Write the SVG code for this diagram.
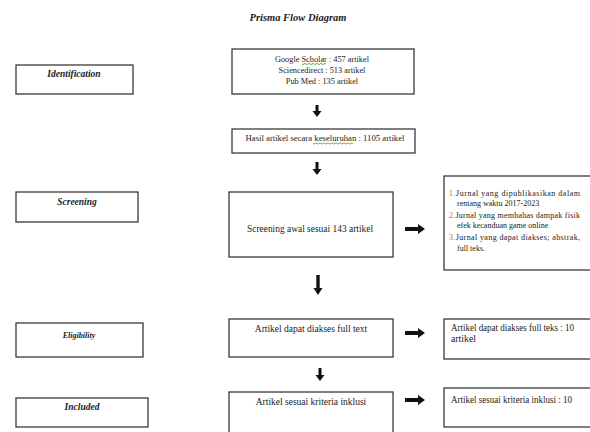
<svg xmlns="http://www.w3.org/2000/svg" width="590" height="432" viewBox="0 0 590 432">
<style>
.box{fill:#fff;stroke:#3a3a3a;stroke-width:1.3}
.t{font-family:"Liberation Serif","Times New Roman",serif;fill:#222}
.lab{font-family:"Liberation Serif","Times New Roman",serif;font-weight:bold;font-style:italic;fill:#222}
.arr{fill:#111}
.num{fill:#d0661f}
.sq{fill:none;stroke:#3a9a3a;stroke-width:0.8}
</style>
<rect width="590" height="432" fill="#fff"/>
<text class="lab" x="298" y="21" font-size="10.5" text-anchor="middle">Prisma Flow Diagram</text>

<g id="identification"><rect class="box" x="16" y="65" width="117" height="29"/><text class="lab" x="74" y="77" font-size="9.5" text-anchor="middle">Identification</text></g>
<g id="screening"><rect class="box" x="16" y="192" width="122" height="30"/><text class="lab" x="77" y="205" font-size="9.5" text-anchor="middle">Screening</text></g>
<g id="eligibility"><rect class="box" x="16" y="323" width="127" height="34"/><text class="lab" x="79" y="338" font-size="8" text-anchor="middle">Eligibility</text></g>
<g id="included"><rect class="box" x="16" y="398" width="132" height="29"/><text class="lab" x="82" y="410" font-size="9.5" text-anchor="middle">Included</text></g>

<g id="sources"><rect class="box" x="232" y="49" width="182" height="45"/>
<text class="t" font-size="8.3" text-anchor="middle"><tspan x="322" y="62">Google Scholar : 457 artikel</tspan><tspan x="322" y="73">Sciencedirect : 513 artikel</tspan><tspan x="322" y="84">Pub Med : 135 artikel</tspan></text>
<path class="sq" d="M302,64 q1,1.2 2,0 t2,0 t2,0 t2,0 t2,0 t2,0 t2,0 t2,0 t2,0 t2,0 t2,0 t2,0"/>
</g>
<g id="total"><rect class="box" x="232" y="129" width="183" height="24"/>
<text class="t" x="325" y="141" font-size="8.7" text-anchor="middle" textLength="159" lengthAdjust="spacingAndGlyphs">Hasil artikel secara keseluruhan : 1105 artikel</text>
<path class="sq" d="M313,143.5 q1,1.2 2,0 t2,0 t2,0 t2,0 t2,0 t2,0 t2,0 t2,0 t2,0 t2,0 t2,0 t2,0 t2,0 t2,0 t2,0 t2,0 t2,0 t2,0 t2,0 t2,0"/>
</g>
<g id="screening-awal"><rect class="box" x="229" y="192" width="164" height="65"/>
<text class="t" x="310" y="232" font-size="10.2" text-anchor="middle" textLength="126" lengthAdjust="spacingAndGlyphs">Screening awal sesuai 143 artikel</text></g>
<g id="criteria"><rect class="box" x="444" y="176" width="150" height="94"/>
<text class="t" font-size="8">
<tspan x="449" y="196" textLength="131" lengthAdjust="spacing"><tspan class="num">1.</tspan>Jurnal yang dipublikasikan dalam</tspan>
<tspan x="457" y="206">rentang waktu 2017-2023</tspan>
<tspan x="449" y="218" textLength="131" lengthAdjust="spacing"><tspan class="num">2.</tspan>Jurnal yang membahas dampak fisik</tspan>
<tspan x="457" y="228">efek kecanduan game online</tspan>
<tspan x="449" y="240" textLength="131" lengthAdjust="spacing"><tspan class="num">3.</tspan>Jurnal yang dapat diakses; abstrak,</tspan>
<tspan x="457" y="251">full teks.</tspan>
</text></g>
<g id="fulltext"><rect class="box" x="229" y="319" width="164" height="38"/>
<text class="t" x="311" y="332" font-size="9.5" text-anchor="middle">Artikel dapat diakses full text</text></g>
<g id="fulltext-result"><rect class="box" x="444" y="319" width="150" height="40"/>
<text class="t" font-size="9.8"><tspan x="451" y="331" textLength="123" lengthAdjust="spacingAndGlyphs">Artikel dapat diakses full teks : 10</tspan><tspan x="451" y="342">artikel</tspan></text></g>
<g id="inklusi"><rect class="box" x="229" y="392" width="164" height="45"/>
<text class="t" x="311" y="405" font-size="9.5" text-anchor="middle">Artikel sesuai kriteria inklusi</text></g>
<g id="inklusi-result"><rect class="box" x="444" y="388" width="150" height="39"/>
<text class="t" x="451" y="403" font-size="9.8" textLength="121" lengthAdjust="spacingAndGlyphs">Artikel sesuai kriteria inklusi : 10</text></g>

<g id="connectors">
<polygon class="arr" points="315.5,105 318.5,105 318.5,111 321.5,111 317,117 312.5,111 315.5,111"/>
<polygon class="arr" points="315.5,162 318.5,162 318.5,169 321.5,169 317,175 312.5,169 315.5,169"/>
<polygon class="arr" points="316.3,275 319.7,275 319.7,288 322.5,288 318,295 313.5,288 316.3,288"/>
<polygon class="arr" points="318.5,368 321.5,368 321.5,375 324.5,375 320,381 315.5,375 318.5,375"/>
<polygon class="arr" points="405,227 418,227 418,224 425,229 418,234 418,231 405,231"/>
<polygon class="arr" points="405,331 418,331 418,328 425,333 418,338 418,335 405,335"/>
<polygon class="arr" points="405,398 418,398 418,395 425,400 418,405 418,402 405,402"/>
</g>
</svg>
